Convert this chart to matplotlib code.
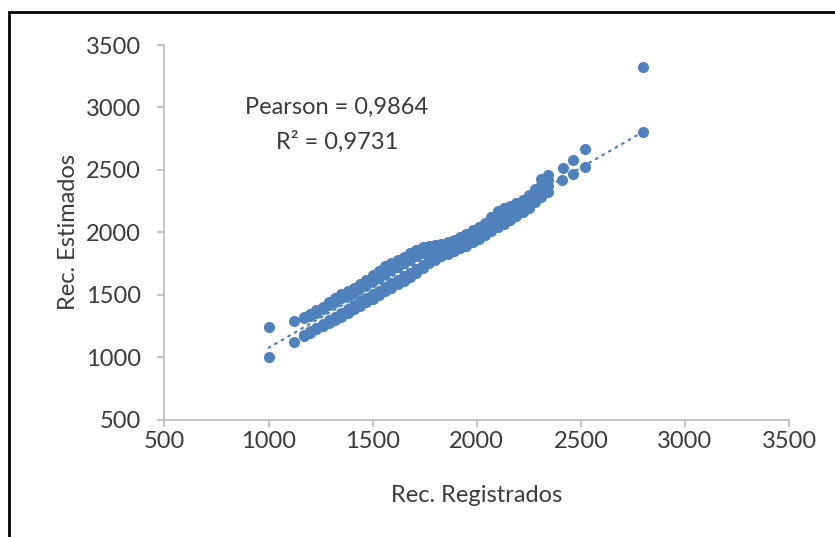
import numpy as np
import matplotlib
matplotlib.use("Agg")
import matplotlib.pyplot as plt
from matplotlib.patches import Rectangle

##### Data #####
# x values shared by the four rows of the dense band
band_x = [1170, 1200, 1230, 1260, 1290, 1320, 1350, 1380, 1410, 1440,
          1470, 1500, 1530, 1560, 1590, 1620, 1650, 1680, 1710, 1740,
          1770, 1800, 1830, 1860, 1890, 1920, 1950, 1980, 2010, 2040,
          2070, 2100, 2130, 2160, 2190, 2220, 2250, 2280, 2310, 2340]
# upper band (estimated above registered)
upper_top = [1322, 1347, 1376, 1405, 1438, 1471, 1504, 1530, 1556, 1582,
             1618, 1655, 1692, 1726, 1754, 1779, 1804, 1832, 1857, 1878,
             1889, 1894, 1906, 1920, 1940, 1965, 1990, 2019, 2043, 2077,
             2122, 2167, 2196, 2209, 2233, 2258, 2295, 2348, 2425, 2462]
upper_bot = [1310, 1327, 1356, 1385, 1414, 1443, 1472, 1492, 1521, 1550,
             1579, 1608, 1637, 1666, 1694, 1723, 1752, 1781, 1810, 1835,
             1858, 1868, 1873, 1889, 1910, 1933, 1957, 1986, 2012, 2043,
             2084, 2124, 2153, 2172, 2198, 2226, 2261, 2311, 2377, 2416]
# lower band (estimated below registered)
lower_top = [1175, 1207, 1236, 1265, 1294, 1323, 1352, 1388, 1417, 1446,
             1475, 1504, 1533, 1562, 1590, 1619, 1648, 1677, 1706, 1737,
             1774, 1820, 1841, 1859, 1880, 1902, 1925, 1954, 1981, 2011,
             2048, 2082, 2111, 2137, 2165, 2195, 2229, 2277, 2332, 2372]
lower_bot = [1168, 1196, 1221, 1246, 1271, 1300, 1325, 1353, 1382, 1411,
             1440, 1469, 1498, 1527, 1555, 1584, 1613, 1642, 1675, 1712,
             1750, 1778, 1807, 1828, 1849, 1870, 1891, 1920, 1948, 1977,
             2010, 2039, 2068, 2101, 2129, 2162, 2195, 2240, 2285, 2326]
# isolated points
extra_x = [1000, 1000, 1120, 1120, 2410, 2415, 2460, 2460, 2520, 2520, 2800, 2800]
extra_y = [1000, 1245, 1120, 1290, 2415, 2515, 2470, 2580, 2525, 2670, 2805, 3325]
# linear trend line end points
trend_x = [1000, 2800]
trend_y = [1075, 2806]

pearson_txt = "Pearson = 0,9864"
r2_txt = "R² = 0,9731"
x_label = "Rec. Registrados"
y_label = "Rec. Estimados"
ticks = [500, 1000, 1500, 2000, 2500, 3000, 3500]

##### Plot #####
plt.rcParams['font.family'] = ['Lato', 'DejaVu Sans']
blue = '#4F81BD'
grey = '#BFBFBF'
txt_col = '#3A3A3A'
fsize = 17

fig = plt.figure(figsize=(8.35, 5.37), dpi=100)
ax = fig.add_axes([0.197, 0.2188, 0.748, 0.6974])

all_x = band_x * 4 + extra_x
all_y = upper_top + upper_bot + lower_top + lower_bot + extra_y
ax.scatter(all_x, all_y, s=64, color=blue, linewidths=0, zorder=3)
ax.plot(trend_x, trend_y, color=blue, lw=1.6, linestyle=(0, (0.8, 2.6)),
        dash_capstyle='round', zorder=2)

ax.set_xlim(500, 3500)
ax.set_ylim(500, 3500)
ax.set_xticks(ticks)
ax.set_yticks(ticks)
for s in ['top', 'right']:
    ax.spines[s].set_visible(False)
for s in ['left', 'bottom']:
    ax.spines[s].set_color(grey)
    ax.spines[s].set_linewidth(1.3)
ax.tick_params(direction='out', length=5, width=1.3, color=grey,
               labelsize=fsize, labelcolor=txt_col)
ax.tick_params(axis='x', pad=3)
ax.tick_params(axis='y', pad=12)
ax.set_xlabel(x_label, fontsize=fsize, color=txt_col, labelpad=24)
ax.set_ylabel(y_label, fontsize=fsize, color=txt_col, labelpad=5)

ax.text(1328, 3004, pearson_txt, fontsize=fsize, color=txt_col,
        ha='center', va='center')
ax.text(1328, 2726, r2_txt, fontsize=fsize, color=txt_col,
        ha='center', va='center')

# outer frame of the chart area (cut at right and bottom)
fig.add_artist(Rectangle((9 / 835, -0.2), 1.5, 1.2 - 12 / 537,
                         transform=fig.transFigure, fill=False,
                         lw=2, ec='black'))

fig.savefig('out.png', dpi=100)
